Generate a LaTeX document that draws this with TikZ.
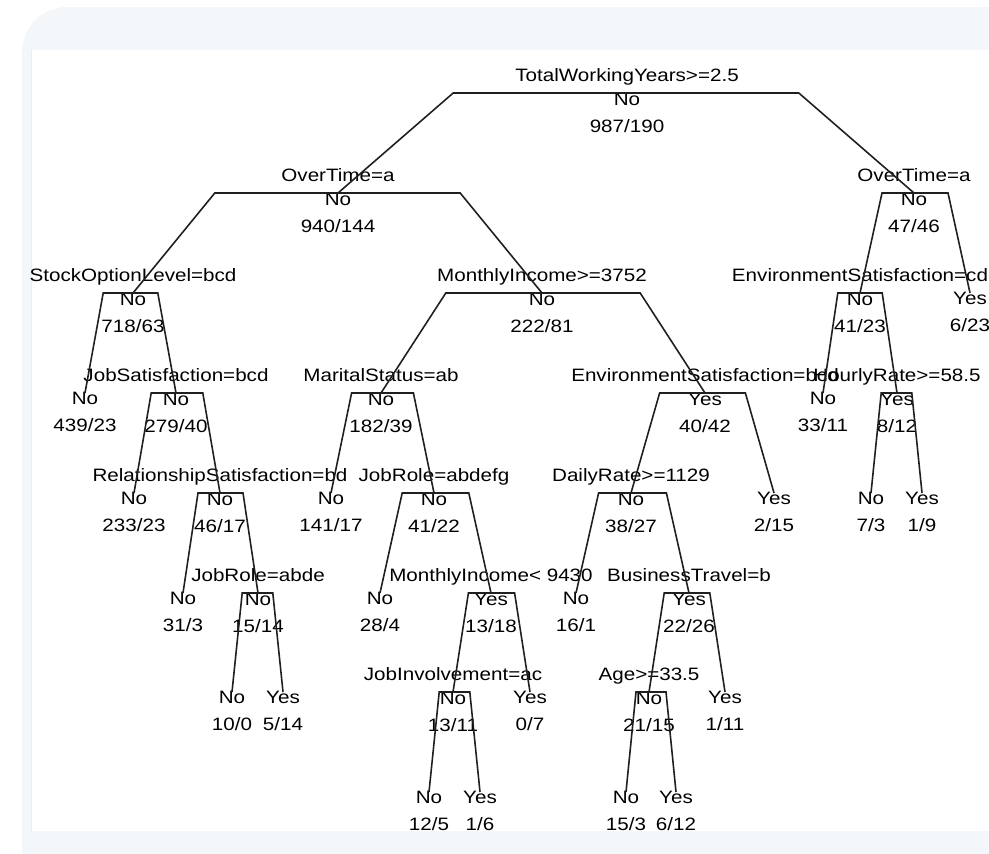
\documentclass[tikz,border=0pt]{standalone}
\usepackage{fontspec}
\setmainfont{Liberation Sans}
\usepackage{graphicx}
\usetikzlibrary{calc}

\definecolor{panelbg}{HTML}{F4F7FA}
\definecolor{paneledge}{HTML}{E8EEF4}

\tikzset{
  txt/.style={inner sep=0pt, anchor=base, font=\fontsize{10.2pt}{12pt}\selectfont},
  br/.style={draw=black!88, line width=0.9pt, line join=miter},
}
% R's labels come out a bit wide in the screenshot
\newcommand{\wide}[1]{\scalebox{1.15}[1]{#1}}
% split node: name, x, y, rule, class, counts
\newcommand{\splitat}[6]{%
  \coordinate (#1) at (#2,#3);
  \node[txt] (#1-q) at (#2,#3-11.5) {\wide{#4}};
  \node[txt] (#1-c) at (#2,#3+12.5) {\wide{#5}};
  \node[txt] (#1-n) at (#2,#3+39) {\wide{#6}};}
% leaf: name, x, y, class, counts
\newcommand{\leafat}[5]{%
  \coordinate (#1) at (#2,#3);
  \node[txt] (#1-c) at (#2,#3+11.5) {\wide{#4}};
  \node[txt] (#1-n) at (#2,#3+38.5) {\wide{#5}};}
% rpart branch (branch=0.6): parent, left child, right child
\newcommand{\branch}[3]{%
  \path ($(#2)!0.2!(#3)$) coordinate (#1-a) ($(#3)!0.2!(#2)$) coordinate (#1-b);
  \draw[br] (#2) -- (#1-a |- #1) -- (#1-b |- #1) -- (#3);}

\begin{document}
\begin{tikzpicture}[x=0.02cm, y=-0.02cm]
% pixel grid of the screenshot, y down
\useasboundingbox (0,0) rectangle (989,853);

% --- panel behind the plot ---
\fill[panelbg, rounded corners=0.9cm] (22,7) rectangle (1040,900);
\fill[white] (31,50) rectangle (1000,831);
\draw[paneledge, line width=0.4pt] (31,50) -- (31,831);

% --- level 0 ---
\splitat{root}{627}{93}{TotalWorkingYears>=2.5}{No}{987/190}
% --- level 1 ---
\splitat{ot1}{338}{193}{OverTime=a}{No}{940/144}
\splitat{ot2}{914}{193}{OverTime=a}{No}{47/46}
% --- level 2 ---
\splitat{sol}{133}{293}{StockOptionLevel=bcd}{No}{718/63}
\splitat{mi1}{542}{293}{MonthlyIncome>=3752}{No}{222/81}
\splitat{esa}{860}{293}{EnvironmentSatisfaction=cd}{No}{41/23}
\leafat{l623}{970}{293}{Yes}{6/23}
% --- level 3 ---
\leafat{l43923}{85}{393}{No}{439/23}
\splitat{js}{176}{393}{JobSatisfaction=bcd}{No}{279/40}
\splitat{ms}{381}{393}{MaritalStatus=ab}{No}{182/39}
\splitat{esb}{705}{393}{EnvironmentSatisfaction=bcd}{Yes}{40/42}
\leafat{l3311}{823}{393}{No}{33/11}
\splitat{hr}{897}{393}{HourlyRate>=58.5}{Yes}{8/12}
% --- level 4 ---
\leafat{l23323}{134}{493}{No}{233/23}
\splitat{rs}{220}{493}{RelationshipSatisfaction=bd}{No}{46/17}
\leafat{l14117}{331}{493}{No}{141/17}
\splitat{jr1}{434}{493}{JobRole=abdefg}{No}{41/22}
\splitat{dr}{631}{493}{DailyRate>=1129}{No}{38/27}
\leafat{l215}{774}{493}{Yes}{2/15}
\leafat{l73}{871}{493}{No}{7/3}
\leafat{l19}{922}{493}{Yes}{1/9}
% --- level 5 ---
\leafat{l313}{183}{593}{No}{31/3}
\splitat{jr2}{258}{593}{JobRole=abde}{No}{15/14}
\leafat{l284}{380}{593}{No}{28/4}
\splitat{mi2}{491}{593}{MonthlyIncome< 9430}{Yes}{13/18}
\leafat{l161}{576}{593}{No}{16/1}
\splitat{bt}{689}{593}{BusinessTravel=b}{Yes}{22/26}
% --- level 6 ---
\leafat{l100}{232}{692}{No}{10/0}
\leafat{l514}{283}{692}{Yes}{5/14}
\splitat{ji}{453}{692}{JobInvolvement=ac}{No}{13/11}
\leafat{l07}{530}{692}{Yes}{0/7}
\splitat{age}{649}{692}{Age>=33.5}{No}{21/15}
\leafat{l111}{725}{692}{Yes}{1/11}
% --- level 7 ---
\leafat{l125}{429}{792}{No}{12/5}
\leafat{l16}{480}{792}{Yes}{1/6}
\leafat{l153}{626}{792}{No}{15/3}
\leafat{l612}{676}{792}{Yes}{6/12}

% --- branches ---
\branch{root}{ot1}{ot2}
\branch{ot1}{sol}{mi1}
\branch{ot2}{esa}{l623}
\branch{sol}{l43923}{js}
\branch{mi1}{ms}{esb}
\branch{esa}{l3311}{hr}
\branch{js}{l23323}{rs}
\branch{ms}{l14117}{jr1}
\branch{esb}{dr}{l215}
\branch{hr}{l73}{l19}
\branch{rs}{l313}{jr2}
\branch{jr1}{l284}{mi2}
\branch{dr}{l161}{bt}
\branch{jr2}{l100}{l514}
\branch{mi2}{ji}{l07}
\branch{bt}{age}{l111}
\branch{ji}{l125}{l16}
\branch{age}{l153}{l612}
\end{tikzpicture}
\end{document}
